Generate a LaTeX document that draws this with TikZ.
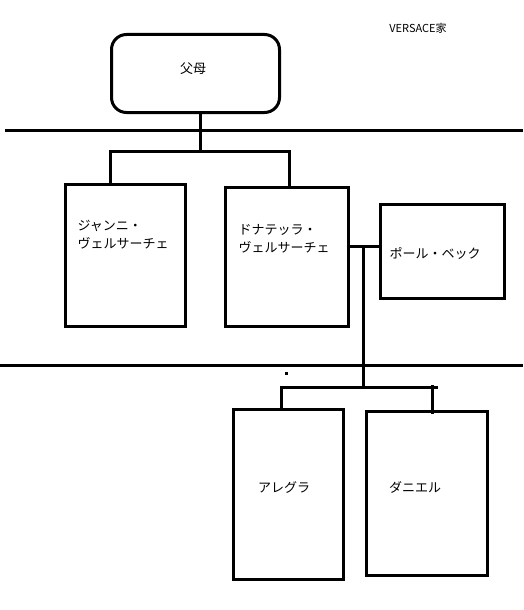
\documentclass[tikz,border=0pt]{standalone}
\usepackage{fontspec}
\newfontfamily\jp{Noto Sans CJK JP}
\usetikzlibrary{calc}
\tikzset{
	person/.style={draw,rectangle,anchor=north west,inner sep=0pt},
	namelbl/.style={anchor=west,inner sep=0pt,align=left,font=\jp\fontsize{13}{18}\selectfont},
	centrelbl/.style={inner sep=0pt,font=\jp\fontsize{13}{18}\selectfont},
}

\begin{document}
\begin{tikzpicture}[x=1pt,y=-1pt,line width=3pt]

	\useasboundingbox (0,0) rectangle (523,610);

	% title

	\node[inner sep=0pt,font=\jp\fontsize{11}{13}\selectfont] (title) at (418,28) {VERSACE家};

	% parents

	\node[person,rounded corners=15pt,minimum width=168pt,minimum height=78pt] (parents) at (110,33) {};
	\node[centrelbl] (parentslbl) at (193,69) {父母};

	% generation lines

	\draw (5,130) -- (523,130);
	\draw (0,365) -- (523,365);

	% children of the parents

	\node[person,minimum width=120pt,minimum height=142pt] (gianni) at (64,183) {};
	\node[namelbl] (giannilbl) at (76,235) {ジャンニ・\\ヴェルサーチェ};

	\node[person,minimum width=123pt,minimum height=139pt] (donatella) at (224,186) {};
	\node[namelbl] (donatellalbl) at (237,239) {ドナテッラ・\\ヴェルサーチェ};

	\node[person,minimum width=124pt,minimum height=94pt] (paul) at (379,203) {};
	\node[namelbl] (paullbl) at (388,253) {ポール・ベック};

	% grandchildren

	\node[person,minimum width=110pt,minimum height=170pt] (allegra) at (232,408) {};
	\node[centrelbl] (allegralbl) at (284,487) {アレグラ};

	\node[person,minimum width=121pt,minimum height=164pt] (daniel) at (365,410) {};
	\node[centrelbl] (daniellbl) at (415,487) {ダニエル};

	% connectors

	\coordinate (kids) at (200,151);
	\coordinate (gj) at (110,151);
	\coordinate (dj) at (289,151);
	\draw (parents.south -| kids) -- (kids);
	\draw (gianni.north -| gj) -- (gj) -- (dj) -- (donatella.north -| dj);

	\coordinate (mj) at (363,246);
	\draw (mj -| donatella.east) -- (mj) -- (mj -| paul.west);

	\coordinate (grandkids) at (363,387);
	\coordinate (aj) at (281,387);
	\coordinate (nj) at (432,387);
	\draw (mj) -- (grandkids);
	\draw (allegra.north -| aj) -- (aj) -- ($(nj)+(6,0)$);
	\draw ($(nj)+(0,-2)$) -- ($(daniel.north -| nj)+(0,4)$);

	\fill (285,372) rectangle (288,375);

\end{tikzpicture}
\end{document}
